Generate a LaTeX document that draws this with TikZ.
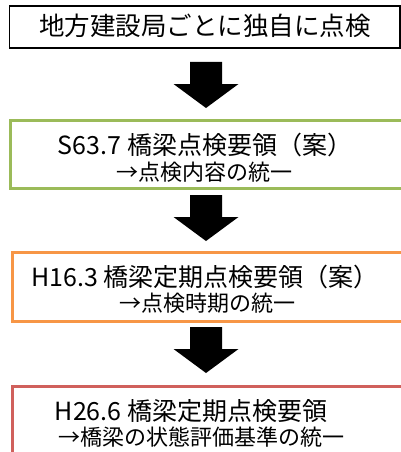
\documentclass[tikz,border=0pt]{standalone}
\usepackage{fontspec}
\setmainfont{Noto Sans CJK JP}
\definecolor{boxgreen}{HTML}{9BBB59}
\definecolor{boxorange}{HTML}{F79646}
\definecolor{boxred}{HTML}{D0605C}
\tikzset{
  stagebox/.style={draw, fill=white, line width=2.6pt, anchor=north west, inner sep=0pt},
  firstbox/.style={draw=black, fill=white, line width=1.6pt, anchor=north west, inner sep=0pt},
  titletext/.style={inner sep=0pt, font=\fontsize{25pt}{28pt}\selectfont},
  subtext/.style={inner sep=0pt, font=\fontsize{22pt}{25pt}\selectfont},
  headtext/.style={inner sep=0pt, font=\fontsize{25.5pt}{28pt}\selectfont},
  blockarrow/.style={fill=black},
}
\newcommand\drawblockarrow[1]{%
  \fill[blockarrow] (#1) ++(-16,0) -- ++(32,0) -- ++(0,22) -- ++(16.5,0) -- ++(-32.5,24) -- ++(-32.5,-24) -- ++(16.5,0) -- cycle;}
\begin{document}
\begin{tikzpicture}[x=1pt,y=-1pt]
\useasboundingbox (0,0) rectangle (401,452);
\clip (0,0) rectangle (401,452);
\fill[white] (0,0) rectangle (401,452);
% boxes
\node[firstbox, minimum width=390.5pt, minimum height=42pt] (b1) at (8.5,5) {};
\node[stagebox, draw=boxgreen, minimum width=400pt, minimum height=68pt] (b2) at (9,119) {};
\node[stagebox, draw=boxorange, minimum width=400pt, minimum height=69pt] (b3) at (11,251) {};
\node[stagebox, draw=boxred, minimum width=400pt, minimum height=80pt] (b4) at (11,385) {};
% texts
\node[headtext] (t1) at (205,26) {地方建設局ごとに独自に点検};
\node[titletext] (t2a) at (205,145) {S63.7 橋梁点検要領（案）};
\node[subtext] (t2b) at (204,172) {→点検内容の統一};
\node[titletext] (t3a) at (205,277) {H16.3 橋梁定期点検要領（案）};
\node[subtext] (t3b) at (207,303) {→点検時期の統一};
\node[titletext] (t4a) at (191,411) {H26.6 橋梁定期点検要領};
\node[subtext] (t4b) at (201,437) {→橋梁の状態評価基準の統一};
% arrows
\coordinate (a1) at (206,62);
\coordinate (a2) at (206,195);
\coordinate (a3) at (206,327);
\drawblockarrow{a1}
\drawblockarrow{a2}
\drawblockarrow{a3}
\end{tikzpicture}
\end{document}
